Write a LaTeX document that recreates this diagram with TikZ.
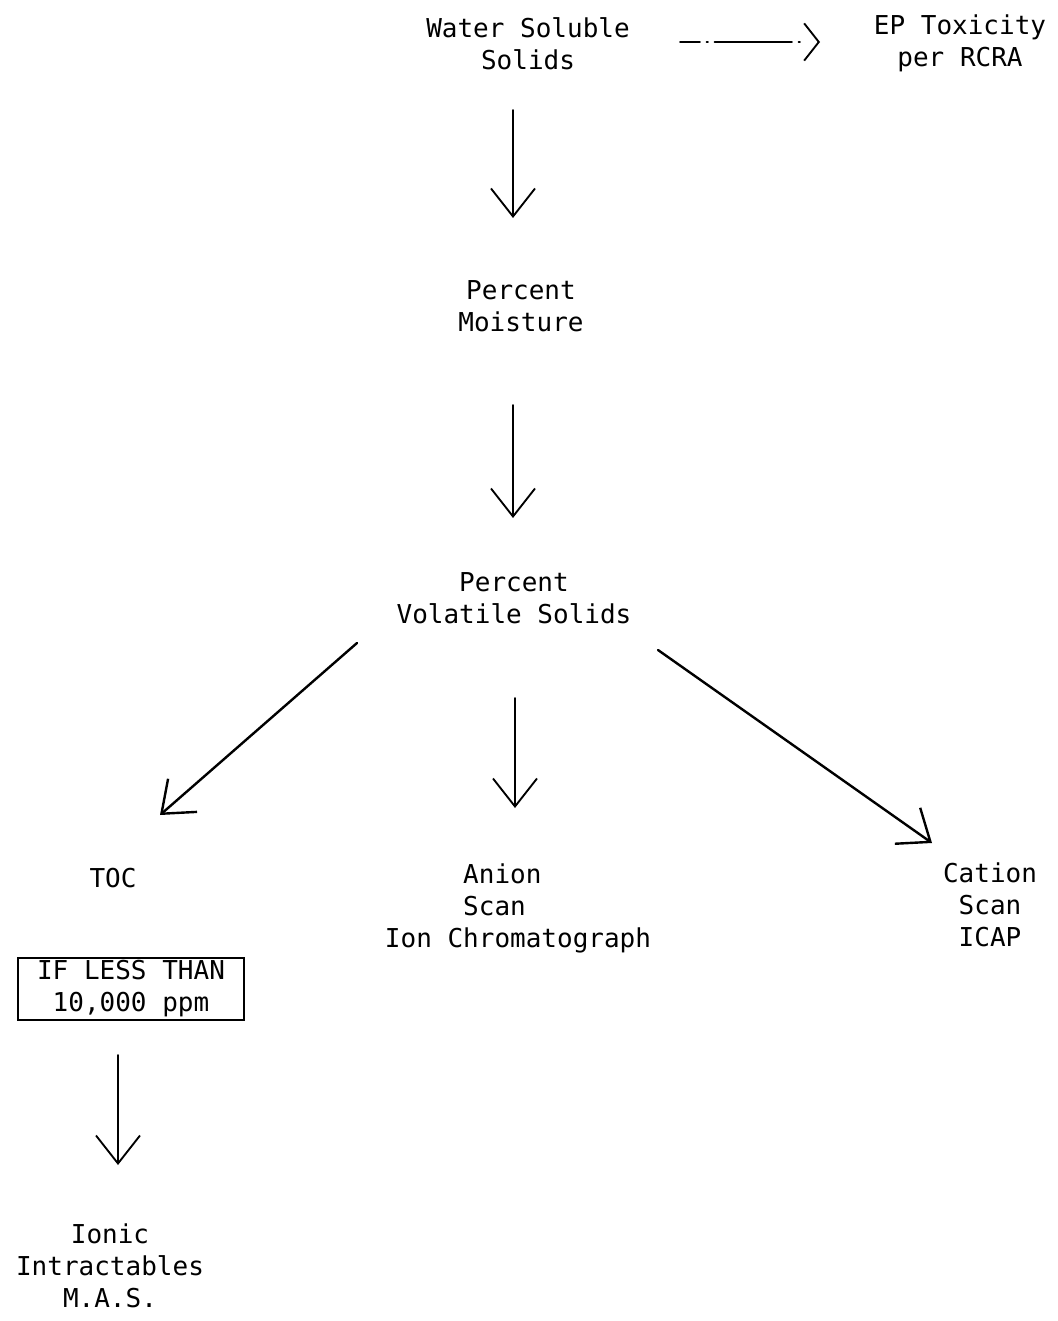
\documentclass[tikz,border=0pt]{standalone}
\usepackage{fontspec}
\setmainfont{DejaVu Sans Mono}
\usetikzlibrary{arrows.meta}

\begin{document}
\begin{tikzpicture}[x=0.75pt, y=-0.75pt,
    texto/.style={align=center, inner sep=2pt, font=\fontsize{19.5pt}{24pt}\selectfont},
    flecha/.style={line width=1.4pt, line cap=round, -{Straight Barb[length=21pt, width=33pt]}}]
            % Marco de la figura
            \useasboundingbox (0,0) rectangle (1057,1321);

            % Nodos de arriba
            \node[texto] (wss) at (528,44) {Water Soluble\\Solids};
            \node[texto] (ep) at (960,43) {EP Toxicity\\per RCRA};
            \node[texto] (pm) at (521,306) {Percent\\Moisture};
            \node[texto] (pvs) at (514,598) {Percent\\Volatile Solids};

            % Nodos de abajo
            \node[texto] (toc) at (113,878) {TOC};
            \node[texto, align=left] (anion) at (518,908) {\phantom{IonCh}Anion\\\phantom{IonCh}Scan\\Ion Chromatograph};
            \node[texto] (cation) at (990,905) {Cation\\Scan\\ICAP};
            \node[texto, draw, line width=1.4pt, minimum width=170pt, minimum height=46.5pt] (limite) at (131,989) {IF LESS THAN\\10,000 ppm};
            \node[texto] (ionic) at (110,1266) {Ionic\\Intractables\\M.A.S.};

            % Flechas
            \draw[flecha, dash pattern=on 15pt off 5pt on 1pt off 5pt on 58pt off 5pt on 1pt off 20pt, -{Straight Barb[length=11pt, width=28pt]}] ([shift={(152,-2)}]wss.center) -- ([shift={(-140,-1)}]ep.center);
            \draw[flecha] ([shift={(-15,66)}]wss.center) -- ([shift={(-8,-88)}]pm.center);
            \draw[flecha] ([shift={(-8,99)}]pm.center) -- ([shift={(-1,-80)}]pvs.center);
            \draw[flecha, line width=1.8pt] ([shift={(-157,45)}]pvs.center) -- ([shift={(47,-63)}]toc.center);
            \draw[flecha] ([shift={(1,100)}]pvs.center) -- ([shift={(-3,-100)}]anion.center);
            \draw[flecha, line width=1.8pt] ([shift={(144,52)}]pvs.center) -- ([shift={(-58,-62)}]cation.center);
            \draw[flecha] ([shift={(-13,66)}]limite.center) -- ([shift={(8,-101)}]ionic.center);
        \end{tikzpicture}
\end{document}
